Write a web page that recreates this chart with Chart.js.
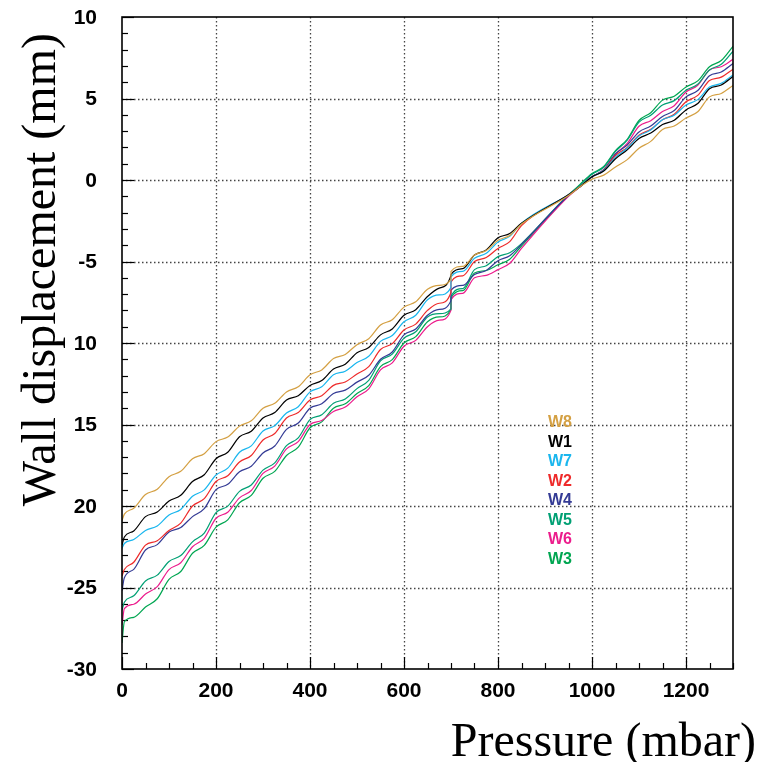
<!DOCTYPE html>
<html>
<head>
<meta charset="utf-8">
<script src="https://cdn.jsdelivr.net/npm/chart.js@4.4.0/dist/chart.umd.min.js"></script>
<style>
  html, body { margin: 0; padding: 0; background: #fff; }
  #wrap { width: 760px; height: 762px; }
</style>
</head>
<body>
<div id="wrap"><canvas id="wallChart" width="760" height="762"></canvas></div>
<script>
// pressure in mbar (699.9 / 700 = the step in every curve)
const pressure = [0,5,25,50,75,100,125,150,175,200,225,250,275,300,325,350,375,400,425,450,475,500,525,550,575,600,625,650,675,699.9,700,725,750,775,800,825,850,950,975,1000,1025,1050,1075,1100,1125,1150,1175,1200,1225,1250,1275,1300];

// wall displacement in mm
const w8 = [-20.9,-20.5,-20.14,-19.3,-18.97,-18.2,-17.87,-17.1,-16.79,-16.05,-15.77,-15.1,-14.77,-14.0,-13.7,-13.0,-12.69,-11.95,-11.65,-10.95,-10.70,-10.1,-9.74,-8.9,-8.57,-7.8,-7.47,-6.7,-6.46,-6.1,-5.6,-5.3,-4.6,-4.33,-3.7,-3.4,-2.7,-0.95,-0.4,0.05,0.3,0.8,1.25,1.95,2.37,3.1,3.31,3.8,4.19,5.1,5.31,5.8];
const w1 = [-22.4,-21.9,-21.53,-20.65,-20.37,-19.7,-19.34,-18.5,-18.08,-17.1,-16.70,-15.75,-15.41,-14.6,-14.27,-13.5,-13.23,-12.6,-12.3,-11.6,-11.3,-10.6,-10.27,-9.5,-9.14,-8.3,-7.96,-7.15,-6.63,-5.85,-5.8,-5.44,-4.6,-4.29,-3.55,-3.28,-2.65,-0.9,-0.4,0.2,0.55,1.3,1.85,2.55,2.88,3.4,3.67,4.3,4.69,5.6,5.83,6.35];
const w7 = [-22.6,-22.3,-22.06,-21.5,-21.22,-20.55,-20.21,-19.4,-19.01,-18.1,-17.68,-16.7,-16.31,-15.4,-15.07,-14.3,-13.91,-13.0,-12.69,-11.95,-11.73,-11.2,-10.81,-9.9,-9.54,-8.7,-8.30,-7.35,-7.05,-6.6,-5.95,-5.61,-4.8,-4.5,-3.8,-3.46,-2.65,-0.9,-0.4,0.2,0.58,1.4,1.95,2.7,3.07,3.7,3.97,4.6,4.93,5.7,5.93,6.45];
const w2 = [-24.3,-23.9,-23.45,-22.4,-22.13,-21.5,-21.05,-20.0,-19.55,-18.5,-18.14,-17.3,-16.90,-15.95,-15.55,-14.6,-14.27,-13.5,-13.23,-12.6,-12.39,-11.9,-11.45,-10.4,-10.04,-9.2,-8.84,-8.0,-7.56,-6.9,-6.25,-5.88,-5.0,-4.76,-4.2,-3.78,-2.8,-0.9,-0.4,0.2,0.6,1.5,2.0,2.75,3.11,3.7,4.03,4.8,5.19,6.1,6.31,6.8];
const w4 = [-25.2,-24.4,-23.89,-22.7,-22.37,-21.6,-21.32,-20.65,-20.16,-19.0,-18.67,-17.9,-17.56,-16.75,-16.32,-15.3,-14.91,-14.0,-13.73,-13.1,-12.89,-12.4,-11.98,-11.0,-10.55,-9.5,-9.14,-8.3,-7.94,-7.4,-6.75,-6.47,-5.8,-5.55,-4.95,-4.65,-3.95,-0.95,-0.4,0.2,0.63,1.6,2.15,2.95,3.31,3.9,4.26,5.1,5.49,6.4,6.63,7.15];
const w5 = [-26.4,-25.9,-25.51,-24.6,-24.24,-23.4,-23.04,-22.2,-21.66,-20.4,-20.01,-19.1,-18.71,-17.8,-17.35,-16.3,-15.82,-14.7,-14.4,-13.7,-13.43,-12.8,-12.29,-11.1,-10.68,-9.7,-9.31,-8.4,-8.2,-7.9,-7.15,-6.66,-5.5,-5.26,-4.7,-4.46,-3.9,-0.9,-0.3,0.35,0.78,1.75,2.45,3.55,3.97,4.6,4.87,5.5,5.88,6.75,7.10,7.9];
const w6 = [-27.3,-26.3,-26.03,-25.4,-24.95,-23.9,-23.48,-22.5,-21.98,-20.75,-20.38,-19.5,-19.05,-18.0,-17.55,-16.5,-16.05,-15.0,-14.76,-14.2,-13.93,-13.3,-12.81,-11.65,-11.22,-10.2,-9.84,-9.0,-8.6,-8.0,-7.35,-6.95,-6.0,-5.85,-5.5,-5.11,-4.2,-1.0,-0.4,0.2,0.63,1.6,2.25,3.3,3.64,4.2,4.56,5.4,5.81,6.75,6.95,7.4];
const w3 = [-28.4,-27.1,-26.83,-26.2,-25.69,-24.5,-24.02,-22.9,-22.42,-21.3,-20.85,-19.8,-19.35,-18.3,-17.88,-16.9,-16.39,-15.2,-14.84,-14.0,-13.73,-13.1,-12.61,-11.45,-11.02,-10.0,-9.61,-8.7,-8.4,-7.95,-7.25,-6.79,-5.7,-5.55,-5.2,-4.86,-4.05,-0.95,-0.25,0.4,0.83,1.8,2.5,3.65,4.13,4.9,5.14,5.7,6.08,6.95,7.33,8.2];

const seriesNames = ['W8', 'W1', 'W7', 'W2', 'W4', 'W5', 'W6', 'W3'];
const seriesValues = [w8, w1, w7, w2, w4, w5, w6, w3];
const seriesColors = ['#d4a043', '#000000', '#19b6ee', '#ee2a2a', '#343b95', '#00a074', '#ec1c8c', '#00a651'];

const xTicks = [0, 200, 400, 600, 800, 1000, 1200];
const xTickLabels = ['0', '200', '400', '600', '800', '1000', '1200'];
const yTicks = [-30, -25, -20, -15, -10, -5, 0, 5, 10];
const yTickLabels = ['-30', '-25', '20', '15', '10', '-5', '0', '5', '10'];

// dotted grid, inside tick marks, tick labels, box, legend and titles
const framePlugin = {
    id: 'frame',
    beforeDatasetsDraw(chart) {
        const ctx = chart.ctx;
        const a = chart.chartArea;
        const xs = chart.scales.x, ys = chart.scales.y;
        ctx.save();
        ctx.strokeStyle = '#444';
        ctx.lineWidth = 1.3;
        ctx.setLineDash([1.5, 2.5]);
        xTicks.forEach(v => {
            if (v == 0) return;
            const px = Math.round(xs.getPixelForValue(v)) + 0.5;
            ctx.beginPath(); ctx.moveTo(px, a.top); ctx.lineTo(px, a.bottom); ctx.stroke();
        });
        yTicks.forEach(v => {
            if (v == -30 || v == 10) return;
            const py = Math.round(ys.getPixelForValue(v)) + 0.5;
            ctx.beginPath(); ctx.moveTo(a.left, py); ctx.lineTo(a.right, py); ctx.stroke();
        });
        ctx.setLineDash([]);
        ctx.strokeStyle = '#000';
        ctx.lineWidth = 1.2;
        for (let v = 0; v <= 1300; v += 50) {
            const px = Math.round(xs.getPixelForValue(v)) + 0.5;
            const len = (v % 200 == 0) ? 12 : 6;
            ctx.beginPath(); ctx.moveTo(px, a.bottom); ctx.lineTo(px, a.bottom - len); ctx.stroke();
        }
        for (let v = -30; v <= 10; v += 1) {
            const py = Math.round(ys.getPixelForValue(v)) + 0.5;
            const len = (v % 5 == 0) ? 12 : 6;
            ctx.beginPath(); ctx.moveTo(a.left, py); ctx.lineTo(a.left + len, py); ctx.stroke();
        }

        ctx.fillStyle = '#000';
        ctx.font = 'bold 21px "Liberation Sans", Arial, sans-serif';
        ctx.textAlign = 'center';
        ctx.textBaseline = 'top';
        xTicks.forEach((v, i) => ctx.fillText(xTickLabels[i], xs.getPixelForValue(v), a.bottom + 12));
        ctx.textAlign = 'right';
        ctx.textBaseline = 'middle';
        yTicks.forEach((v, i) => ctx.fillText(yTickLabels[i], 97, ys.getPixelForValue(v) + 1));
        ctx.restore();
    },
    afterDatasetsDraw(chart) {
        const ctx = chart.ctx;
        const a = chart.chartArea;
        ctx.save();
        ctx.strokeStyle = '#000';
        ctx.lineWidth = 1.6;
        ctx.strokeRect(a.left, a.top, a.right - a.left, a.bottom - a.top);

        // legend: coloured names only
        ctx.font = 'bold 16px "Liberation Sans", Arial, sans-serif';
        ctx.textBaseline = 'middle';
        ctx.textAlign = 'left';
        seriesNames.forEach((name, i) => {
            ctx.fillStyle = seriesColors[i];
            ctx.fillText(name, 548, 423 + i * 19.5);
        });

        // axis titles
        ctx.fillStyle = '#000';
        ctx.font = '48px "Liberation Serif", "Times New Roman", serif';
        ctx.textBaseline = 'alphabetic';
        ctx.textAlign = 'right';
        ctx.fillText('Pressure (mbar)', 756, 756);

        ctx.translate(55, 33);
        ctx.rotate(-Math.PI / 2);
        ctx.fillText('Wall displacement (mm)', 0, 0);
        ctx.restore();
    }
};

const ctx = document.getElementById('wallChart').getContext('2d');
const myChart = new Chart(ctx, {
    type: 'line',
    data: {
        datasets: seriesNames.map((name, i) => ({
            label: name,
            data: pressure.map((p, j) => ({ x: p, y: seriesValues[i][j] })),
            borderColor: seriesColors[i],
            borderWidth: 1.2,
            pointRadius: 0,
            fill: false,
            cubicInterpolationMode: 'monotone'
        }))
    },
    options: {
        responsive: false,
        animation: false,
        devicePixelRatio: 1,
        layout: { padding: { left: 0, top: 17, right: 27, bottom: 0 } },
        plugins: { legend: { display: false }, tooltip: { enabled: false } },
        scales: {
            x: {
                type: 'linear', min: 0, max: 1300,
                grid: { display: false, drawTicks: false },
                border: { display: false },
                ticks: { display: false },
                afterFit: (s) => { s.height = 93; }
            },
            y: {
                type: 'linear', min: -30, max: 10,
                grid: { display: false, drawTicks: false },
                border: { display: false },
                ticks: { display: false },
                afterFit: (s) => { s.width = 122; }
            }
        }
    },
    plugins: [framePlugin]
});
</script>
</body>
</html>
